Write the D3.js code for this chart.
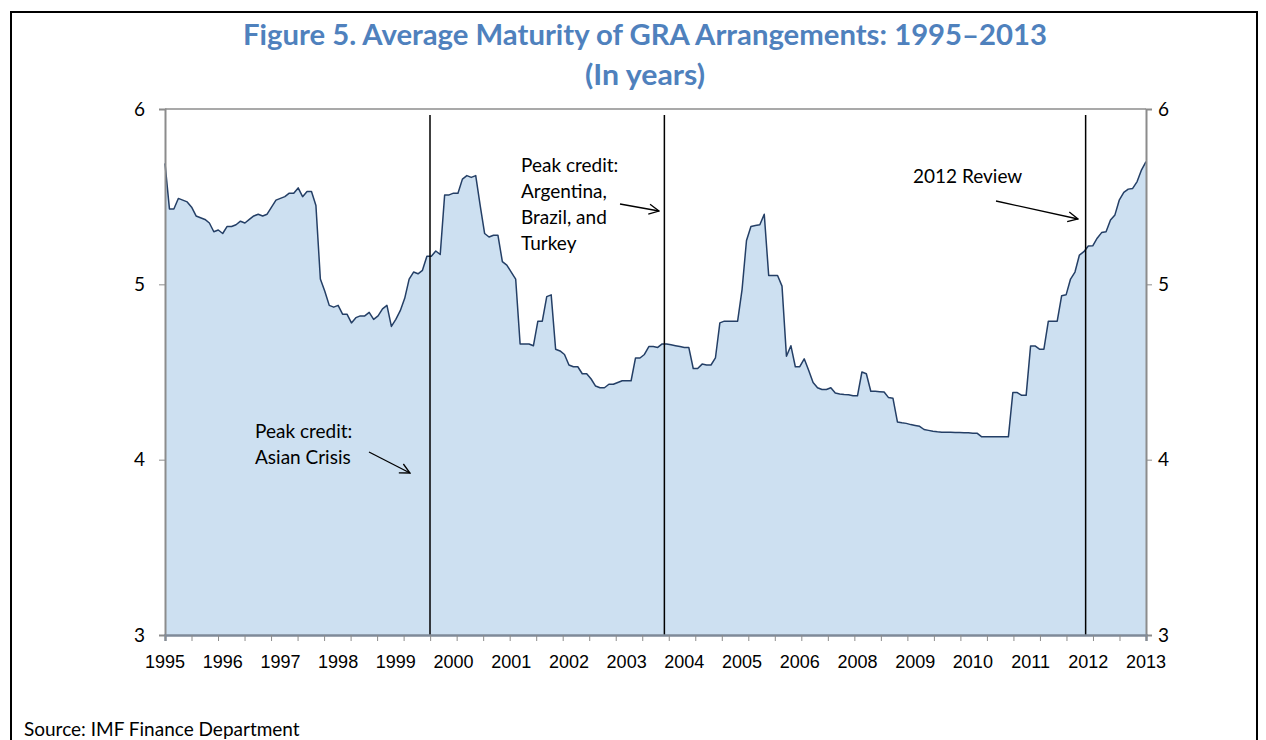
<!DOCTYPE html>
<html>
<head>
<meta charset="utf-8">
<script src="https://cdn.jsdelivr.net/npm/d3@7"></script>
<style>
  body { margin: 0; background: #fff; }
  svg { display: block; }
</style>
</head>
<body>
<svg width="1266" height="740"></svg>
<script>

// monthly data, Jan 1995 .. Jun 2013 (average maturity, years)
var maturity = [
  5.69, 5.43, 5.43, 5.49, 5.48, 5.47, 5.44, 5.39, 5.38, 5.37, 5.35, 5.30,   // 1995
  5.31, 5.29, 5.33, 5.33, 5.34, 5.36, 5.35, 5.37, 5.39, 5.40, 5.39, 5.40,   // 1996
  5.44, 5.48, 5.49, 5.50, 5.52, 5.52, 5.55, 5.50, 5.53, 5.53, 5.45, 5.03,   // 1997
  4.96, 4.88, 4.87, 4.88, 4.83, 4.83, 4.78, 4.81, 4.82, 4.82, 4.84, 4.80,   // 1998
  4.82, 4.86, 4.88, 4.76, 4.80, 4.85, 4.92, 5.03, 5.07, 5.06, 5.08, 5.16,   // 1999
  5.16, 5.19, 5.17, 5.51, 5.51, 5.52, 5.52, 5.60, 5.62, 5.61, 5.62, 5.45,   // 2000
  5.29, 5.27, 5.28, 5.28, 5.13, 5.11, 5.07, 5.03, 4.66, 4.66, 4.66, 4.65,   // 2001
  4.79, 4.79, 4.93, 4.94, 4.63, 4.62, 4.60, 4.54, 4.53, 4.53, 4.49, 4.49,   // 2002
  4.46, 4.42, 4.41, 4.41, 4.43, 4.43, 4.44, 4.45, 4.45, 4.45, 4.58, 4.58,   // 2003
  4.60, 4.645, 4.645, 4.64, 4.66, 4.66, 4.655, 4.65, 4.645, 4.64, 4.64, 4.52, // 2004
  4.52, 4.545, 4.54, 4.54, 4.58, 4.78, 4.79, 4.79, 4.79, 4.79, 4.97, 5.25,  // 2005
  5.33, 5.335, 5.34, 5.40, 5.05, 5.05, 5.05, 4.99, 4.59, 4.65, 4.53, 4.53,  // 2006
  4.575, 4.51, 4.44, 4.41, 4.40, 4.40, 4.41, 4.38, 4.375, 4.372, 4.37, 4.365, // 2007
  4.364, 4.50, 4.49, 4.39, 4.39, 4.388, 4.386, 4.354, 4.35, 4.215, 4.21, 4.207, // 2008
  4.20, 4.195, 4.19, 4.172, 4.167, 4.162, 4.159, 4.157, 4.156, 4.156, 4.155, 4.155, // 2009
  4.154, 4.153, 4.151, 4.150, 4.13, 4.13, 4.13, 4.13, 4.13, 4.13, 4.13, 4.383, // 2010
  4.383, 4.367, 4.367, 4.649, 4.649, 4.63, 4.63, 4.79, 4.79, 4.79, 4.935, 4.94, // 2011
  5.03, 5.07, 5.167, 5.186, 5.219, 5.22, 5.263, 5.295, 5.30, 5.367, 5.396, 5.482, // 2012
  5.524, 5.543, 5.547, 5.586, 5.653, 5.70                                    // 2013
];

var months = d3.timeMonth.range(new Date(1995, 0, 1), new Date(2013, 6, 1));

var yTicks = [3, 4, 5, 6];
var tickEvery = 6;     // category tick marks
var labelEvery = 13;   // category labels (Excel-style, skips 2007)

// vertical markers (month index)
var events = [59.7, 112.5, 207.4];

var notes = [
  { lines: ["Peak credit:", "Asian Crisis"], x: 255, y: 438, arrow: [369, 452, 410, 473] },
  { lines: ["Peak credit:", "Argentina,", "Brazil, and", "Turkey"], x: 521, y: 172, arrow: [620, 204, 659, 211] },
  { lines: ["2012 Review"], x: 913, y: 183, arrow: [996, 201, 1078, 219] }
];

var title = "Figure 5. Average Maturity of GRA Arrangements: 1995\u20132013";
var subtitle = "(In years)";
var source = "Source: IMF Finance Department";

//###############################################
// setup
//###############################################
var svg = d3.select("svg");
var calibri = "Lato, 'Open Sans', sans-serif";
var arial = "'Liberation Sans', Arial, sans-serif";

var plot = { left: 165, right: 1146, top: 109, bottom: 635 };

var x = d3.scaleLinear().domain([0, maturity.length - 1]).range([plot.left, plot.right]);
var xEdge = d3.scaleLinear().domain([0, maturity.length]).range([plot.left, plot.right]);
var y = d3.scaleLinear().domain([3, 6]).range([plot.bottom, plot.top]);

// frame
svg.append("rect")
  .attr("x", 11).attr("y", 12)
  .attr("width", 1246).attr("height", 760)
  .attr("fill", "none").attr("stroke", "#000").attr("stroke-width", 2);

// title
svg.append("text")
  .attr("x", 645).attr("y", 45)
  .attr("text-anchor", "middle")
  .attr("textLength", 804).attr("lengthAdjust", "spacingAndGlyphs")
  .style("font-family", calibri).style("font-weight", "bold")
  .style("font-size", "28px").attr("fill", "#4f81bd")
  .text(title);
svg.append("text")
  .attr("x", 645).attr("y", 85)
  .attr("text-anchor", "middle")
  .attr("textLength", 120).attr("lengthAdjust", "spacingAndGlyphs")
  .style("font-family", calibri).style("font-weight", "bold")
  .style("font-size", "28px").attr("fill", "#4f81bd")
  .text(subtitle);

//###############################################
// area + line
//###############################################
var area = d3.area()
  .x(function(d, i) { return x(i); })
  .y0(y(3))
  .y1(function(d) { return y(d); });

var line = d3.line()
  .x(function(d, i) { return x(i); })
  .y(function(d) { return y(d); });

svg.append("path")
  .datum(maturity)
  .attr("d", area)
  .attr("fill", "#cde0f1");

svg.append("path")
  .datum(maturity)
  .attr("d", line)
  .attr("fill", "none")
  .attr("stroke", "#243f66")
  .attr("stroke-width", 1.5)
  .attr("stroke-linejoin", "round");

// event lines
svg.append("g").selectAll("line")
  .data(events)
  .enter().append("line")
    .attr("x1", function(d) { return x(d); })
    .attr("x2", function(d) { return x(d); })
    .attr("y1", 115).attr("y2", y(3))
    .attr("stroke", "#000").attr("stroke-width", 1.5);

//###############################################
// axes
//###############################################
// top border line at 6
svg.append("line")
  .attr("x1", plot.left).attr("x2", plot.right)
  .attr("y1", y(6)).attr("y2", y(6))
  .attr("stroke", "#8c8c8c").attr("stroke-width", 1.5);

var leftAxis = svg.append("g")
  .attr("transform", "translate(" + plot.left + ",0)")
  .call(d3.axisLeft(y).tickValues(yTicks).tickSize(6).tickPadding(14).tickFormat(d3.format("d")));

var rightAxis = svg.append("g")
  .attr("transform", "translate(" + plot.right + ",0)")
  .call(d3.axisRight(y).tickValues(yTicks).tickSize(6).tickPadding(6).tickFormat(d3.format("d")));

[leftAxis, rightAxis].forEach(function(g) {
  g.select(".domain").attr("stroke", "#8c8c8c").attr("stroke-width", 2);
  g.selectAll(".tick line").attr("stroke", "#8c8c8c");
  g.selectAll(".tick text")
    .style("font-family", calibri).style("font-size", "19px").attr("fill", "#000");
});

var edgeTicks = d3.range(0, maturity.length + 1, tickEvery);
var bottomAxis = svg.append("g")
  .attr("transform", "translate(0," + plot.bottom + ")")
  .call(d3.axisBottom(xEdge).tickValues(edgeTicks).tickSize(6).tickFormat(""));
bottomAxis.select(".domain").attr("stroke", "#7f8a99").attr("stroke-width", 2.5);
bottomAxis.selectAll(".tick line").attr("stroke", "#8c8c8c");

var fmtYear = d3.timeFormat("%Y");
var labelIdx = d3.range(0, maturity.length, labelEvery);
svg.append("g").selectAll("text")
  .data(labelIdx)
  .enter().append("text")
    .attr("x", function(d) { return x(d); })
    .attr("y", 668)
    .attr("text-anchor", "middle")
    .style("font-family", arial).style("font-size", "18px")
    .text(function(d) { return fmtYear(months[d]); });

//###############################################
// annotations
//###############################################
svg.append("defs").append("marker")
  .attr("id", "arr")
  .attr("viewBox", "0 0 12 12")
  .attr("refX", 11).attr("refY", 6)
  .attr("markerWidth", 12).attr("markerHeight", 12)
  .attr("markerUnits", "userSpaceOnUse")
  .attr("orient", "auto")
  .append("path")
    .attr("d", "M1,1 L11,6 L1,11")
    .attr("fill", "none").attr("stroke", "#000").attr("stroke-width", 1.3);

notes.forEach(function(n) {
  var t = svg.append("text")
    .style("font-family", calibri).style("font-size", "19px").attr("fill", "#000");
  n.lines.forEach(function(s, i) {
    t.append("tspan").attr("x", n.x).attr("y", n.y + i * 26).text(s);
  });
  svg.append("line")
    .attr("x1", n.arrow[0]).attr("y1", n.arrow[1])
    .attr("x2", n.arrow[2]).attr("y2", n.arrow[3])
    .attr("stroke", "#000").attr("stroke-width", 1.3)
    .attr("marker-end", "url(#arr)");
});

// source (cut by the page edge in the original; kept just inside)
svg.append("text")
  .attr("x", 24).attr("y", 736)
  .style("font-family", calibri).style("font-size", "19px")
  .text(source);

</script>
</body>
</html>
